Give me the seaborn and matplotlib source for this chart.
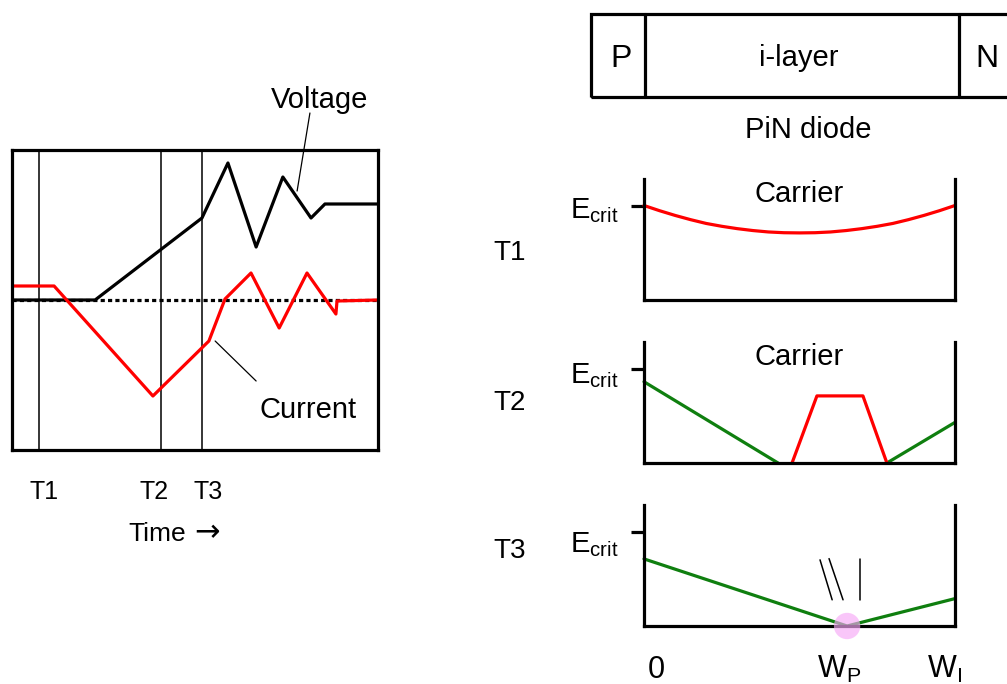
import matplotlib
matplotlib.use("Agg")
import matplotlib.pyplot as plt
from matplotlib.patches import Rectangle
from matplotlib.lines import Line2D
import seaborn as sns
import pandas as pd

# ---------------- data ----------------
# Left panel: waveforms vs time (time units 0..10, amplitude units, 0 = baseline)
volt_t = [0, 2.27, 5.19, 5.90, 6.67, 7.40, 8.17, 8.55, 10]
volt_v = [0, 0, 0.82, 1.37, 0.53, 1.23, 0.82, 0.96, 0.96]
curr_t = [0, 1.15, 3.85, 5.38, 5.82, 6.53, 7.30, 8.06, 8.85, 8.88, 10]
curr_i = [0.14, 0.14, -0.96, -0.41, 0.01, 0.27, -0.28, 0.27, -0.14, -0.01, 0]
base_t = [0, 10]
base_v = [0, 0]
time_marks = [0.74, 4.07, 5.19]
time_labels = ["T1", "T2", "T3"]

# Right panels: field profile across i-layer (position 0..1 = W_I, field in units of E_crit)
t1_x = [0, .05, .1, .15, .2, .25, .3, .35, .4, .45, .5, .55, .6, .65, .7, .75, .8, .85, .9, .95, 1]
t1_e = [1.00, 0.945, 0.895, 0.85, 0.81, 0.78, 0.755, 0.735, 0.72, 0.712, 0.71,
        0.712, 0.72, 0.735, 0.755, 0.78, 0.81, 0.85, 0.895, 0.945, 1.00]
t2_left_x = [0, 0.431]
t2_left_e = [0.86, 0]
t2_right_x = [0.781, 1]
t2_right_e = [0, 0.43]
t2_carrier_x = [0.476, 0.556, 0.704, 0.781]
t2_carrier_n = [0, 0.71, 0.71, 0]
t3_x = [0, 0.653, 1]
t3_e = [0.71, 0, 0.29]
wp_pos = 0.653
spark_lines = [([0.566, 0.605], [0.70, 0.277]),
               ([0.595, 0.640], [0.713, 0.277]),
               ([0.695, 0.695], [0.713, 0.277])]
panel_labels = ["T1", "T2", "T3"]

# ---------------- style ----------------
sns.set_style("white")
plt.rcParams["font.family"] = ["Liberation Sans", "DejaVu Sans"]
plt.rcParams["text.color"] = "black"
plt.rcParams["mathtext.fontset"] = "custom"
plt.rcParams["mathtext.rm"] = "Liberation Sans"
plt.rcParams["mathtext.it"] = "Liberation Sans:italic"
plt.rcParams["mathtext.default"] = "regular"

W, H = 1007, 684
fig = plt.figure(figsize=(W / 100, H / 100), dpi=100)
fig.patch.set_facecolor("white")

def fx(p):
    return p / W

def fy(p):
    return 1 - p / H

RED = "#ff0000"
GREEN = "#0f7f0f"
LW = 2.3

# ---------------- left panel ----------------
axL = fig.add_axes([fx(12), fy(450), 366 / W, 300 / H])
axL.set_xlim(0, 10)
axL.set_ylim(-1.5, 1.5)
for tm in time_marks:
    axL.axvline(tm, color="black", lw=1.1, zorder=1)
sns.lineplot(x=base_t, y=base_v, ax=axL, color="black", lw=2.3, sort=False, estimator=None,
             linestyle=(0, (1.3, 1.0)))
sns.lineplot(x=volt_t, y=volt_v, ax=axL, color="black", lw=LW, sort=False, estimator=None)
sns.lineplot(x=curr_t, y=curr_i, ax=axL, color=RED, lw=LW, sort=False, estimator=None)
axL.set_xticks([])
axL.set_yticks([])
axL.set_xlabel("")
axL.set_ylabel("")
for s in axL.spines.values():
    s.set_visible(True)
    s.set_color("black")
    s.set_linewidth(2.3)
# leader lines
axL.plot([8.14, 7.79], [1.87, 1.09], color="black", lw=0.9, clip_on=False)
axL.plot([5.55, 6.67], [-0.41, -0.81], color="black", lw=0.9, clip_on=False)

fig.text(fx(320), fy(108), "Voltage", ha="center", va="baseline", fontsize=21)
fig.text(fx(308), fy(418), "Current", ha="center", va="baseline", fontsize=21)
for lab, cx in zip(time_labels, [44, 154, 208]):
    fig.text(fx(cx), fy(499), lab, ha="center", va="baseline", fontsize=18)
fig.text(fx(186), fy(541), "Time", ha="right", va="baseline", fontsize=19)
fig.text(fx(194), fy(541), "\u2192", ha="left", va="baseline", fontsize=22,
         family=["DejaVu Sans"])

# ---------------- PiN diode box ----------------
fig.add_artist(Rectangle((fx(591), fy(97)), (1030 - 591) / W, 83 / H,
                         transform=fig.transFigure, fill=False, lw=2.3, ec="black"))
for xd in [645, 959]:
    fig.add_artist(Line2D([fx(xd), fx(xd)], [fy(97), fy(14)], transform=fig.transFigure,
                          color="black", lw=2.3))
fig.text(fx(621), fy(67), "P", ha="center", va="baseline", fontsize=23)
fig.text(fx(799), fy(66), "i-layer", ha="center", va="baseline", fontsize=21)
fig.text(fx(987), fy(67), "N", ha="center", va="baseline", fontsize=23)
fig.text(fx(808), fy(138), "PiN diode", ha="center", va="baseline", fontsize=21)

# ---------------- field panels ----------------
bottoms = [300, 463, 626]
ecrit_base = [218, 383, 552]
tlab_base = [260, 410, 558]
axes = []
for i, b in enumerate(bottoms):
    ax = fig.add_axes([fx(644), fy(b), 311 / W, 121 / H])
    ax.set_xlim(0, 1)
    ax.set_ylim(0, 121 / 94.5)
    ax.spines["top"].set_visible(False)
    for k in ["left", "right", "bottom"]:
        ax.spines[k].set_visible(True)
        ax.spines[k].set_color("black")
        ax.spines[k].set_linewidth(2.3)
    ax.set_xticks([])
    ax.set_yticks([1])
    ax.set_yticklabels([""])
    ax.tick_params(axis="y", left=True, length=9.5, width=2.3, color="black", direction="out")
    axes.append(ax)
    fig.text(fx(619), fy(ecrit_base[i]), r"$\mathregular{E_{crit}}$", ha="right",
             va="baseline", fontsize=21)
    fig.text(fx(510), fy(tlab_base[i]), panel_labels[i], ha="center", va="baseline", fontsize=20)

fig.text(fx(799), fy(202), "Carrier", ha="center", va="baseline", fontsize=21)
fig.text(fx(799), fy(365), "Carrier", ha="center", va="baseline", fontsize=21)

ax1, ax2, ax3 = axes
sns.lineplot(x=t1_x, y=t1_e, ax=ax1, color=RED, lw=LW, sort=False, estimator=None)
sns.lineplot(x=t2_left_x, y=t2_left_e, ax=ax2, color=GREEN, lw=LW, sort=False, estimator=None)
sns.lineplot(x=t2_right_x, y=t2_right_e, ax=ax2, color=GREEN, lw=LW, sort=False, estimator=None)
sns.lineplot(x=t2_carrier_x, y=t2_carrier_n, ax=ax2, color=RED, lw=LW, sort=False, estimator=None)
sns.lineplot(x=t3_x, y=t3_e, ax=ax3, color=GREEN, lw=LW, sort=False, estimator=None)
ax3.scatter([wp_pos], [0], s=360, color="#f7a8f7", alpha=0.65, edgecolors="none",
            zorder=5, clip_on=False)
for xs, ys in spark_lines:
    ax3.plot(xs, ys, color="black", lw=1.1)
for ax in axes:
    ax.set_xlabel("")
    ax.set_ylabel("")
    for ln in ax.lines:
        ln.set_clip_on(False)

fig.text(fx(656), fy(678), "0", ha="center", va="baseline", fontsize=22)
fig.text(fx(817), fy(678), r"$\mathregular{W_P}$", ha="left", va="baseline", fontsize=22)
fig.text(fx(927), fy(678), r"$\mathregular{W_I}$", ha="left", va="baseline", fontsize=22)

fig.savefig("out.png", dpi=100, facecolor="white")
